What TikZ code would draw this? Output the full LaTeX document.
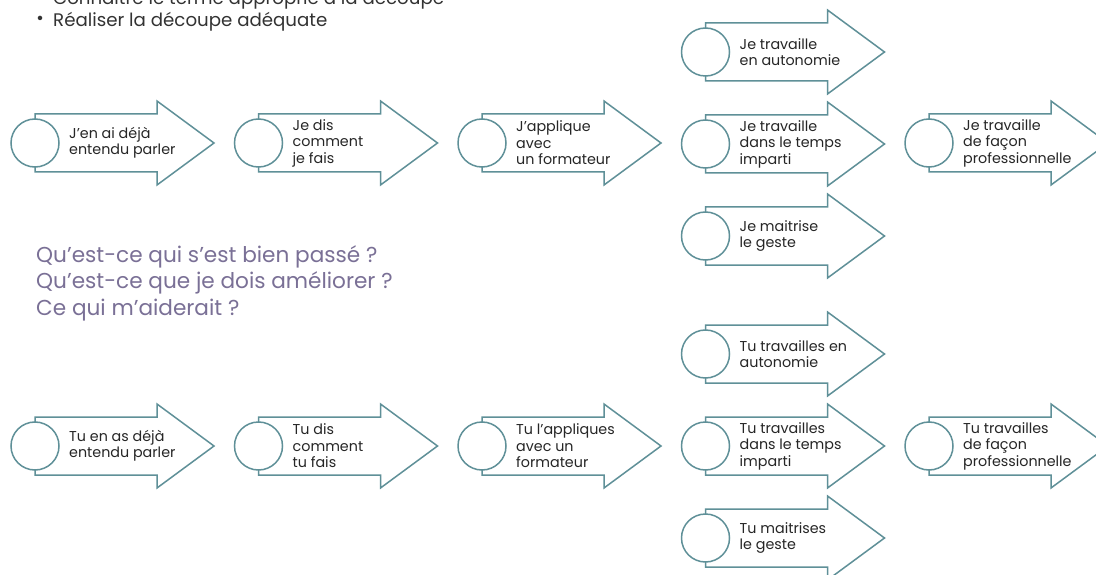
\documentclass[tikz,border=0pt]{standalone}
\usepackage{fontspec}
\setmainfont{Poppins}
\definecolor{arrowcol}{HTML}{5F9098}
\definecolor{txtcol}{HTML}{262626}
\definecolor{quescol}{HTML}{7A7096}
\definecolor{bulcol}{HTML}{333333}
\tikzset{
  arrowline/.style={draw=arrowcol, line width=1.5pt, fill=white, line join=miter},
  circ/.style={circle, draw=arrowcol, line width=1.5pt, fill=white, minimum size=48pt, inner sep=0pt},
  lab/.style={align=left, inner sep=0pt, text=txtcol, font=\fontsize{14.3}{16.5}\selectfont},
  ques/.style={align=left, inner sep=0pt, text=quescol, font=\fontsize{21.6}{26.5}\selectfont},
  bul/.style={inner sep=0pt, text=bulcol, font=\fontsize{18.2}{22}\selectfont}
}
\newcommand\garrow[4]{%
  \draw[arrowline] (#2,#3-29) -- ++(122,0) -- ++(0,-13) -- ++(57,42) -- ++(-57,42) -- ++(0,-13) -- ++(-122,0) -- cycle;
  \node[circ] (#1c) at (#2,#3) {};
  \node[lab, anchor=west] (#1t) at (#2+34,#3) {#4};
}
\begin{document}
\begin{tikzpicture}[x=1pt,y=-1pt]
\useasboundingbox (0,0) rectangle (1096,575);
\clip (0,0) rectangle (1096,575);
\fill[white] (0,0) rectangle (1096,575);

\node[bul, anchor=center] (d1) at (40,-2) {•};
\node[bul, anchor=base west] (l1) at (53,5) {Connaître le terme approprié à la découpe};
\node[bul, anchor=center] (d2) at (40,20) {•};
\node[bul, anchor=base west] (l2) at (53,27) {Réaliser la découpe adéquate};

\node[ques, anchor=north west] (q) at (36,245) {Qu’est-ce qui s’est bien passé ?\\Qu’est-ce que je dois améliorer ?\\Ce qui m’aiderait ?};

% upper block
\garrow{a1}{35}{143}{J’en ai déjà\\entendu parler}
\garrow{a2}{258.5}{143}{Je dis\\comment\\je fais}
\garrow{a3}{482}{143}{J’applique\\avec\\un formateur}
\garrow{a4}{705.5}{52}{Je travaille\\en autonomie}
\garrow{a5}{705.5}{144}{Je travaille\\dans le temps\\imparti}
\garrow{a6}{705.5}{236}{Je maitrise\\le geste}
\garrow{a7}{929}{143}{Je travaille\\de façon\\professionnelle}

% lower block
\garrow{b1}{35}{446}{Tu en as déjà\\entendu parler}
\garrow{b2}{258.5}{446}{Tu dis\\comment\\tu fais}
\garrow{b3}{482}{446}{Tu l’appliques\\avec un\\formateur}
\garrow{b4}{705.5}{354}{Tu travailles en\\autonomie}
\garrow{b5}{705.5}{446}{Tu travailles\\dans le temps\\imparti}
\garrow{b6}{705.5}{538}{Tu maitrises\\le geste}
\garrow{b7}{929}{446}{Tu travailles\\de façon\\professionnelle}
\end{tikzpicture}
\end{document}
